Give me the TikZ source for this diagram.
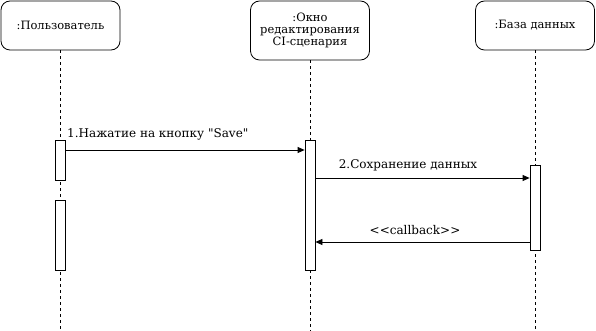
\documentclass[tikz,border=0pt]{standalone}
\usepackage{fontspec}
\setmainfont{DejaVu Serif}[Ligatures=TeXOff]
\usetikzlibrary{arrows.meta,positioning}

\tikzset{
  lifeline/.style={draw, line width=0.8pt, dash pattern=on 3pt off 3pt},
  activation/.style={draw, fill=white, line width=0.8pt, minimum width=10pt, inner sep=0pt},
  msg/.style={draw, line width=0.8pt, -{Triangle[length=7pt,width=6pt]}},
  msglabel/.style={anchor=base, inner sep=0pt, font=\fontsize{12}{13}\selectfont},
}

\begin{document}
\begin{tikzpicture}[x=1pt, y=-1pt, font=\fontsize{11.5}{12.4}\selectfont]
      \useasboundingbox (0,0) rectangle (596,331);
      \begin{scope}[every node/.style={draw, line width=0.8pt, rounded corners=9pt,
          minimum width=119pt, align=center, inner sep=0pt}]
        \node[minimum height=49pt] (user) at (60.5,25.5) {:Пользователь};
        \node[minimum height=59pt] (editor) at (310,30.5) {:Окно\\редактирования\\CI-сценария};
        \node[minimum height=49pt] (db) at (535,25.5) {:База данных};
      \end{scope}
      % lifelines
      \path[lifeline] (user.south) -- (user.south |- 0,331);
      \path[lifeline] (editor.south) -- (editor.south |- 0,331);
      \path[lifeline] (db.south) -- (db.south |- 0,331);
      % activations
      \begin{scope}[every node/.style={activation}]
        \node[minimum height=40pt] (userA) at (60,160) {};
        \node[minimum height=70pt] (userB) at (60,235) {};
        \node[minimum height=130pt] (editorA) at (310,205) {};
        \node[minimum height=85pt] (dbA) at (535,207.5) {};
      \end{scope}
      % messages
      \path[msg] (userA.east |- 0,150) -- (editorA.west |- 0,150);
      \node[msglabel, anchor=base west] (m1) at (67,138) {1.Нажатие на кнопку "Save"};
      \path[msg] (editorA.east |- 0,178) -- (dbA.west |- 0,178);
      \node[msglabel] (m2) at (408,168) {2.Сохранение данных};
      \path[msg] (dbA.west |- 0,242) -- (editorA.east |- 0,242);
      \node[msglabel] (m3) at (415,234) {<<callback>>};
\end{tikzpicture}
\end{document}
